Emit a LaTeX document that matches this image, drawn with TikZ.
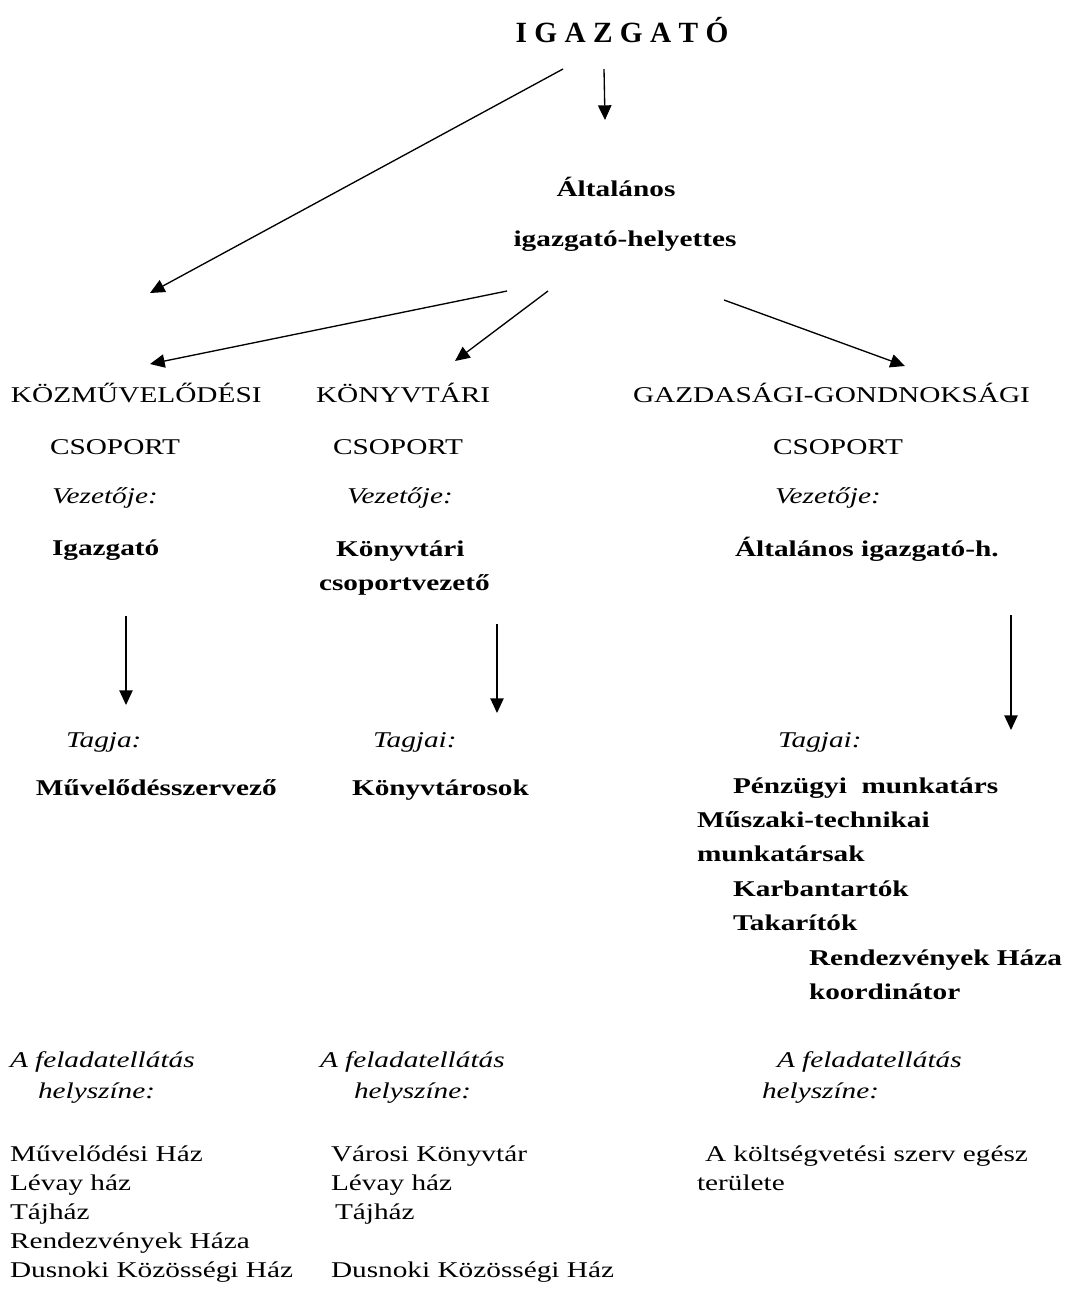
\documentclass[tikz,border=0pt]{standalone}
\usepackage{fontspec}
\setmainfont{Liberation Serif}[FakeStretch=1.3]
\newfontfamily\titlefont{Liberation Serif}
\usetikzlibrary{arrows.meta}
\tikzset{
  txt/.style={anchor=base west, inner sep=0pt, outer sep=0pt, font=\fontsize{16.9pt}{20pt}\selectfont},
  itx/.style={txt, font=\fontsize{16.9pt}{20pt}\selectfont\itshape},
  bfx/.style={txt, font=\fontsize{16.9pt}{20pt}\selectfont\bfseries},
  arr/.style={line width=1pt, -{Triangle[length=11pt,width=10pt]}},
}
\begin{document}
\begin{tikzpicture}[x=0.75pt,y=-0.75pt]
\useasboundingbox (0,0) rectangle (1066,1310);

% top
\node[txt, anchor=base, font={\titlefont\bfseries\fontsize{22pt}{26pt}\selectfont}] (ig) at (622,42) {I G A Z G A T Ó};
\node[bfx, anchor=base] (alt1) at (616,196) {Általános};
\node[bfx, anchor=base] (alt2) at (625,246) {igazgató-helyettes};

% column 1
\node[txt] (k1a) at (11,402) {KÖZMŰVELŐDÉSI};
\node[txt] (k1b) at (50,454) {CSOPORT};
\node[itx] (k1c) at (52,503) {Vezetője:};
\node[bfx] (k1d) at (52,555) {Igazgató};
\node[itx] (k1e) at (66,747) {Tagja:};
\node[bfx] (k1f) at (36,795) {Művelődésszervező};
\node[itx] (k1g) at (10,1067) {A feladatellátás};
\node[itx] (k1h) at (38,1098) {helyszíne:};
\node[txt] (k1i) at (10,1161) {Művelődési Ház};
\node[txt] (k1j) at (10,1190) {Lévay ház};
\node[txt] (k1k) at (10,1219) {Tájház};
\node[txt] (k1l) at (10,1248) {Rendezvények Háza};
\node[txt] (k1m) at (10,1277) {Dusnoki Közösségi Ház};

% column 2
\node[txt] (k2a) at (316,402) {KÖNYVTÁRI};
\node[txt] (k2b) at (333,454) {CSOPORT};
\node[itx] (k2c) at (347,503) {Vezetője:};
\node[bfx] (k2d) at (336,556) {Könyvtári};
\node[bfx] (k2e) at (319,590) {csoportvezető};
\node[itx] (k2f) at (373,747) {Tagjai:};
\node[bfx] (k2g) at (352,795) {Könyvtárosok};
\node[itx] (k2h) at (320,1067) {A feladatellátás};
\node[itx] (k2i) at (354,1098) {helyszíne:};
\node[txt] (k2j) at (331,1161) {Városi Könyvtár};
\node[txt] (k2k) at (331,1190) {Lévay ház};
\node[txt] (k2l) at (335,1219) {Tájház};
\node[txt] (k2m) at (331,1277) {Dusnoki Közösségi Ház};

% column 3
\node[txt] (k3a) at (633,402) {GAZDASÁGI-GONDNOKSÁGI};
\node[txt] (k3b) at (773,454) {CSOPORT};
\node[itx] (k3c) at (775,503) {Vezetője:};
\node[bfx] (k3d) at (735,556) {Általános igazgató-h.};
\node[itx] (k3e) at (778,747) {Tagjai:};
\node[bfx] (k3f) at (733,793) {Pénzügyi\ \ munkatárs};
\node[bfx] (k3g) at (697,827) {Műszaki-technikai};
\node[bfx] (k3h) at (697,861) {munkatársak};
\node[bfx] (k3i) at (733,896) {Karbantartók};
\node[bfx] (k3j) at (733,930) {Takarítók};
\node[bfx] (k3k) at (809,965) {Rendezvények Háza};
\node[bfx] (k3l) at (809,999) {koordinátor};
\node[itx] (k3m) at (777,1067) {A feladatellátás};
\node[itx] (k3n) at (762,1098) {helyszíne:};
\node[txt] (k3o) at (705,1161) {A költségvetési szerv egész};
\node[txt] (k3p) at (697,1190) {területe};

% connector end points
\coordinate (igL) at (563,69);
\coordinate (igD) at (604,69);
\coordinate (altT) at (605,120);
\coordinate (k1T) at (150,293);
\coordinate (hL) at (507,291);
\coordinate (hM) at (548,291);
\coordinate (hR) at (724,300);
\coordinate (k1G) at (150,364);
\coordinate (k2G) at (455,361);
\coordinate (k3G) at (905,366);
\coordinate (v1s) at (126,616);
\coordinate (v1e) at (126,705);
\coordinate (v2s) at (497,624);
\coordinate (v2e) at (497,713);
\coordinate (v3s) at (1011,615);
\coordinate (v3e) at (1011,730);

\draw[arr] (igL) -- (k1T);
\draw[arr] (igD) -- (altT);
\draw[arr] (hL) -- (k1G);
\draw[arr] (hM) -- (k2G);
\draw[arr] (hR) -- (k3G);
\draw[arr] (v1s) -- (v1e);
\draw[arr] (v2s) -- (v2e);
\draw[arr] (v3s) -- (v3e);
\end{tikzpicture}
\end{document}
